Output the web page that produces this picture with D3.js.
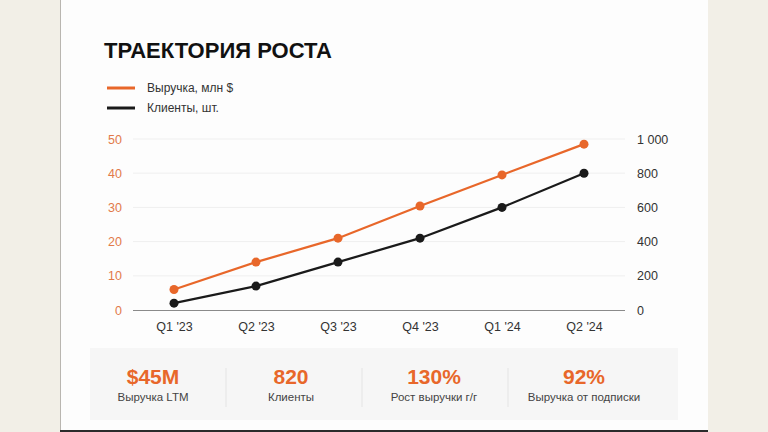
<!DOCTYPE html>
<html>
<head>
<meta charset="utf-8">
<script src="https://cdn.jsdelivr.net/npm/d3@7"></script>
<style>
  body { margin: 0; background: #f2efe7; }
  svg { display: block; font-family: "Liberation Sans", Arial, sans-serif; }
</style>
</head>
<body>
<script>
// chart data
const quarters = ["Q1 '23", "Q2 '23", "Q3 '23", "Q4 '23", "Q1 '24", "Q2 '24"];
const revenue = [6, 14, 21, 30.4, 39.5, 48.5];
const clients = [40, 140, 280, 420, 600, 800];
const leftTicks = [0, 10, 20, 30, 40, 50];
const rightTicks = [0, 200, 400, 600, 800, 1000];
const seriesNames = ["Выручка, млн $", "Клиенты, шт."];
const statValues = ["$45M", "820", "130%", "92%"];
const statLabels = ["Выручка LTM", "Клиенты", "Рост выручки г/г", "Выручка от подписки"];

const W = 768, H = 432;
const orange = "#e8672a";
const dark = "#1a1a1a";
const font = "'Liberation Sans', Arial, sans-serif";

const svg = d3.select("body").append("svg")
    .attr("width", W)
    .attr("height", H);

// card
svg.append("rect").attr("x", 60).attr("y", 0).attr("width", 648).attr("height", H)
    .attr("fill", "#fdfdfd");
svg.append("line").attr("x1", 60.5).attr("x2", 60.5).attr("y1", 0).attr("y2", H)
    .attr("stroke", "#b9b6b0").attr("stroke-width", 1);
svg.append("rect").attr("x", 60).attr("y", 430).attr("width", 648).attr("height", 2)
    .attr("fill", "#2b2b2b");

// title
svg.append("text")
    .attr("x", 104).attr("y", 58)
    .attr("font-size", 22).attr("font-weight", 700)
    .attr("fill", "#111")
    .text("ТРАЕКТОРИЯ РОСТА");

// legend
const legend = svg.append("g");
seriesNames.forEach(function (name, i) {
    let y = 88 + i * 20;
    legend.append("line")
        .attr("x1", 107).attr("x2", 135).attr("y1", y).attr("y2", y)
        .attr("stroke", i == 0 ? orange : dark).attr("stroke-width", 3);
    legend.append("text")
        .attr("x", 147).attr("y", y + 4)
        .attr("font-size", 12).attr("fill", "#333")
        .text(name);
});

// scales
const x = d3.scalePoint().domain(quarters).range([133, 625]).padding(0.5);
const yL = d3.scaleLinear().domain([0, 50]).range([310, 139]);
const yR = d3.scaleLinear().domain([0, 1000]).range([310, 139]);

// grid
svg.append("g").selectAll("line").data(leftTicks.slice(1)).join("line")
    .attr("x1", 133).attr("x2", 625)
    .attr("y1", d => yL(d)).attr("y2", d => yL(d))
    .attr("stroke", "#efefef").attr("stroke-width", 1);

// left axis
const leftAxis = svg.append("g")
    .attr("transform", "translate(122,0)")
    .call(d3.axisLeft(yL).tickValues(leftTicks).tickSize(0).tickPadding(0));
leftAxis.select(".domain").remove();
leftAxis.selectAll("text")
    .attr("font-family", font)
    .attr("font-size", 12.5).attr("fill", "#e27a4a");

// right axis
const fmtRu = d3.formatLocale({ decimal: ",", thousands: "\u00a0", grouping: [3], currency: ["", ""] }).format(",");
const rightAxis = svg.append("g")
    .attr("transform", "translate(637,0)")
    .call(d3.axisRight(yR).tickValues(rightTicks).tickSize(0).tickPadding(0).tickFormat(fmtRu));
rightAxis.select(".domain").remove();
rightAxis.selectAll("text")
    .attr("font-family", font)
    .attr("font-size", 12.5).attr("fill", "#333");

// bottom axis
const bottomAxis = svg.append("g")
    .attr("transform", "translate(0,310)")
    .call(d3.axisBottom(x).tickSize(0).tickPadding(12));
bottomAxis.select(".domain").remove();
bottomAxis.selectAll("text")
    .attr("font-family", font)
    .attr("font-size", 12.5).attr("fill", "#333");
svg.append("line").attr("x1", 133).attr("x2", 625).attr("y1", 310.5).attr("y2", 310.5)
    .attr("stroke", "#8a8a8a").attr("stroke-width", 1);

// series
function drawSeries(values, scale, color) {
    const line = d3.line()
        .x((d, i) => x(quarters[i]))
        .y(d => scale(d));
    svg.append("path")
        .datum(values)
        .attr("fill", "none")
        .attr("stroke", color)
        .attr("stroke-width", 2.2)
        .attr("d", line);
    svg.append("g").selectAll("circle").data(values).join("circle")
        .attr("cx", (d, i) => x(quarters[i]))
        .attr("cy", d => scale(d))
        .attr("r", 4.5)
        .attr("fill", color);
}
drawSeries(clients, yR, dark);
drawSeries(revenue, yL, orange);

// stats panel
svg.append("rect").attr("x", 90).attr("y", 348).attr("width", 588).attr("height", 72)
    .attr("fill", "#f6f6f6");
const centers = [153, 291, 434, 584];
const dividers = [226, 362, 508];
const stats = svg.append("g");
statValues.forEach(function (v, i) {
    stats.append("text")
        .attr("x", centers[i]).attr("y", 384)
        .attr("text-anchor", "middle")
        .attr("font-size", 21).attr("font-weight", 700)
        .attr("fill", orange)
        .text(v);
    stats.append("text")
        .attr("x", centers[i]).attr("y", 401)
        .attr("text-anchor", "middle")
        .attr("font-size", 11.5).attr("fill", "#444")
        .text(statLabels[i]);
});
stats.selectAll("line").data(dividers).join("line")
    .attr("x1", d => d).attr("x2", d => d)
    .attr("y1", 368).attr("y2", 407)
    .attr("stroke", "#e4e4e4").attr("stroke-width", 1);
</script>
</body>
</html>
